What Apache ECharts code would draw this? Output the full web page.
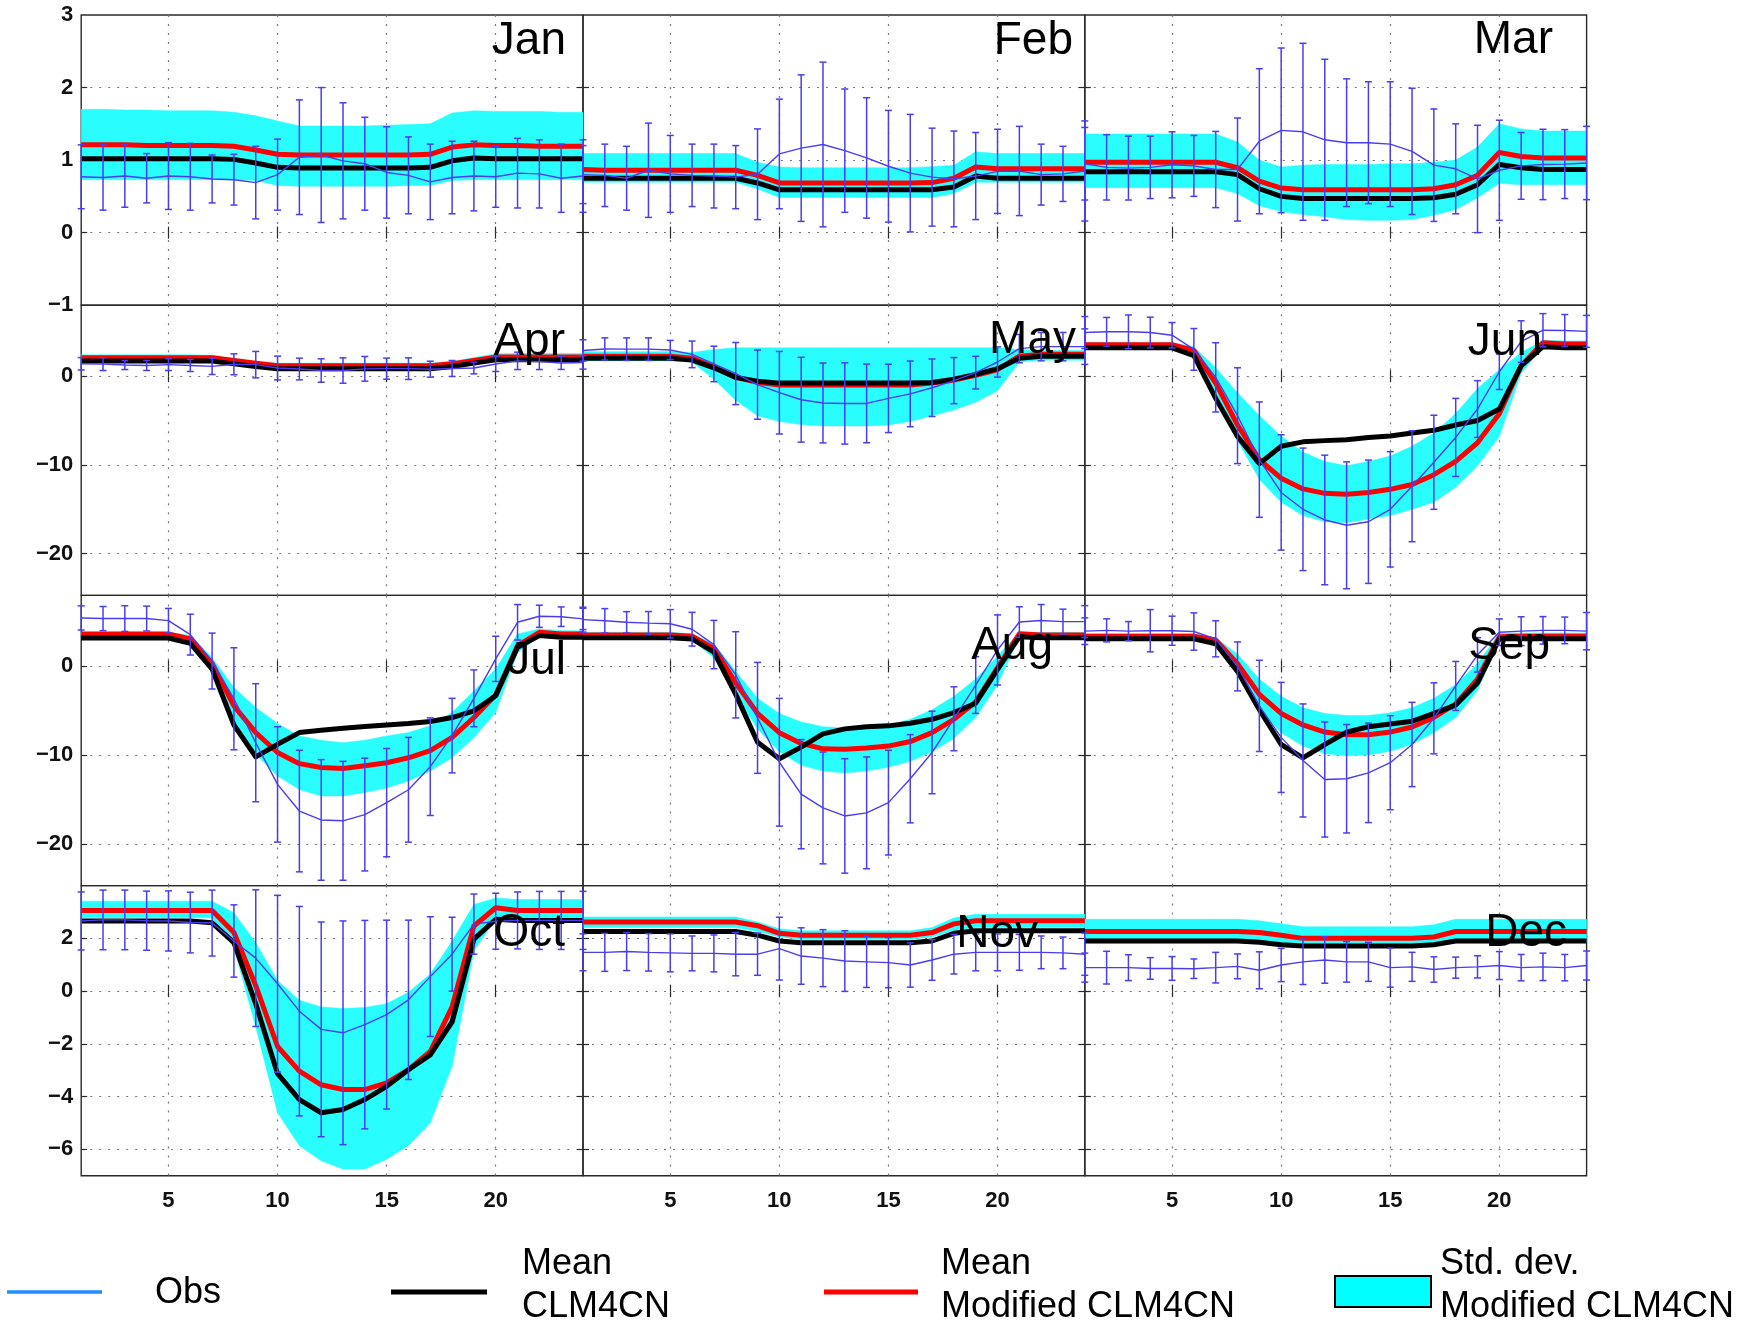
<!DOCTYPE html>
<html><head><meta charset="utf-8">
<script src="https://cdn.jsdelivr.net/npm/echarts@6/dist/echarts.min.js"></script>
<style>html,body{margin:0;padding:0;background:#fff}#c{width:1748px;height:1329px}</style>
</head><body><div id="c"></div>
<script>
// ---------------- DATA ----------------
const hours = [1,2,3,4,5,6,7,8,9,10,11,12,13,14,15,16,17,18,19,20,21,22,23,24];
const months = ['Jan','Feb','Mar','Apr','May','Jun','Jul','Aug','Sep','Oct','Nov','Dec'];
const xTickValues = [5,10,15,20];
const rowYMin = [-1, -24.7, -24.7, -7];
const rowYMax = [3, 8, 8, 4];
const rowYTicks = [[-1,0,1,2,3],[-20,-10,0],[-20,-10,0],[-6,-4,-2,0,2]];

// Mean CLM4CN (black)
const ctlMean = [
 [1.02,1.02,1.02,1.02,1.02,1.02,1.02,1.01,0.96,0.90,0.89,0.89,0.89,0.89,0.89,0.89,0.90,0.99,1.03,1.02,1.02,1.02,1.02,1.02],
 [0.75,0.75,0.75,0.75,0.75,0.75,0.75,0.75,0.685,0.59,0.59,0.59,0.59,0.59,0.59,0.59,0.59,0.63,0.78,0.75,0.75,0.75,0.75,0.75],
 [0.84,0.84,0.84,0.84,0.84,0.84,0.84,0.80,0.605,0.50,0.47,0.47,0.47,0.47,0.47,0.47,0.48,0.53,0.66,0.94,0.895,0.87,0.87,0.87],
 [1.70,1.70,1.70,1.70,1.70,1.70,1.70,1.39,1.09,0.83,0.83,0.83,0.83,0.83,0.83,0.83,0.83,1.09,1.47,1.85,1.85,1.85,1.85,1.85],
 [2.03,2.03,2.03,2.03,2.03,1.81,0.95,-0.13,-0.56,-0.78,-0.78,-0.78,-0.78,-0.78,-0.78,-0.78,-0.70,-0.35,0.20,0.85,2.03,2.25,2.25,2.25],
 [3.2,3.2,3.2,3.2,3.2,2.33,-2.5,-6.8,-9.85,-7.9,-7.4,-7.26,-7.17,-6.9,-6.74,-6.4,-6.1,-5.5,-5.0,-3.7,1.17,3.33,3.2,3.2],
 [3.2,3.2,3.2,3.2,3.2,2.6,-0.3,-6.6,-10.2,-8.78,-7.46,-7.2,-6.97,-6.78,-6.6,-6.44,-6.2,-5.76,-5.0,-3.3,2.15,3.47,3.28,3.28],
 [3.24,3.24,3.24,3.24,3.24,3.1,1.6,-3.15,-8.55,-10.4,-9.1,-7.6,-7.04,-6.8,-6.7,-6.4,-5.96,-5.2,-4.15,-0.35,3.33,3.24,3.24,3.24],
 [3.11,3.11,3.11,3.11,3.11,3.11,2.55,-0.56,-4.88,-8.8,-10.3,-8.8,-7.4,-6.8,-6.5,-6.18,-5.3,-4.36,-1.86,3.11,3.11,3.11,3.11,3.11],
 [2.66,2.66,2.66,2.66,2.66,2.66,2.59,1.84,-0.48,-3.13,-4.11,-4.61,-4.49,-4.11,-3.61,-2.98,-2.42,-1.17,1.97,2.72,2.68,2.68,2.68,2.68],
 [2.26,2.26,2.26,2.26,2.26,2.26,2.26,2.26,2.12,1.90,1.83,1.83,1.83,1.83,1.83,1.83,1.90,2.19,2.29,2.29,2.29,2.29,2.29,2.29],
 [1.90,1.90,1.90,1.90,1.90,1.90,1.90,1.90,1.85,1.76,1.71,1.71,1.71,1.71,1.71,1.71,1.76,1.90,1.90,1.90,1.90,1.90,1.90,1.90]
];
// Mean Modified CLM4CN (red)
const modMean = [
 [1.21,1.21,1.21,1.20,1.20,1.20,1.20,1.19,1.14,1.08,1.07,1.07,1.07,1.07,1.07,1.07,1.08,1.18,1.21,1.20,1.20,1.19,1.19,1.19],
 [0.87,0.86,0.86,0.86,0.86,0.86,0.86,0.86,0.79,0.685,0.685,0.685,0.685,0.685,0.685,0.685,0.69,0.75,0.905,0.88,0.88,0.88,0.88,0.88],
 [0.97,0.97,0.97,0.97,0.97,0.97,0.97,0.895,0.71,0.615,0.59,0.59,0.59,0.59,0.59,0.59,0.605,0.66,0.79,1.105,1.05,1.03,1.03,1.03],
 [2.07,2.07,2.07,2.07,2.07,2.07,2.07,1.77,1.47,1.17,1.17,1.17,1.17,1.17,1.17,1.17,1.17,1.39,1.77,2.15,2.15,2.15,2.15,2.15],
 [2.25,2.25,2.25,2.25,2.25,2.03,1.04,-0.13,-0.69,-1.00,-1.00,-1.00,-1.00,-1.00,-1.00,-1.00,-0.78,-0.43,0.09,0.73,2.25,2.46,2.46,2.46],
 [3.54,3.54,3.54,3.54,3.54,2.9,-0.78,-5.5,-9.4,-11.5,-12.7,-13.2,-13.3,-13.1,-12.75,-12.2,-11.1,-9.6,-7.5,-4.23,1.17,3.76,3.63,3.63],
 [3.65,3.65,3.65,3.65,3.65,3.1,0.34,-4.44,-7.46,-9.7,-10.96,-11.4,-11.5,-11.2,-10.85,-10.3,-9.5,-8.0,-5.76,-3.2,2.34,3.84,3.65,3.65],
 [3.54,3.54,3.54,3.54,3.54,3.41,2.03,-1.86,-5.3,-7.47,-8.68,-9.29,-9.33,-9.2,-8.98,-8.47,-7.47,-5.96,-4.0,-0.13,3.67,3.54,3.54,3.54],
 [3.41,3.41,3.41,3.41,3.41,3.41,2.98,0.3,-3.15,-5.3,-6.6,-7.4,-7.7,-7.7,-7.4,-6.83,-5.75,-4.23,-1.43,3.33,3.41,3.41,3.41,3.41],
 [3.06,3.06,3.06,3.06,3.06,3.06,3.06,2.22,0.21,-2.1,-3.03,-3.55,-3.73,-3.73,-3.48,-2.98,-2.29,-0.6,2.47,3.16,3.06,3.06,3.06,3.06],
 [2.62,2.62,2.62,2.62,2.62,2.62,2.62,2.62,2.48,2.19,2.12,2.12,2.12,2.12,2.12,2.12,2.22,2.55,2.67,2.67,2.67,2.67,2.67,2.67],
 [2.26,2.26,2.26,2.26,2.26,2.26,2.26,2.26,2.22,2.12,2.00,2.00,2.00,2.00,2.00,2.00,2.05,2.26,2.26,2.26,2.26,2.26,2.26,2.26]
];
// Std. dev. band of Modified CLM4CN: upper and lower edges
const modHi = [
 [1.70,1.70,1.69,1.69,1.68,1.68,1.68,1.66,1.61,1.54,1.47,1.47,1.47,1.47,1.48,1.49,1.50,1.65,1.68,1.67,1.67,1.67,1.66,1.66],
 [1.09,1.09,1.09,1.09,1.09,1.09,1.09,1.09,0.97,0.905,0.895,0.895,0.895,0.895,0.895,0.895,0.91,0.93,1.115,1.09,1.09,1.09,1.09,1.09],
 [1.36,1.36,1.36,1.36,1.36,1.36,1.36,1.25,1.00,0.905,0.93,0.94,0.94,0.94,0.95,0.95,0.97,1.00,1.18,1.50,1.43,1.40,1.40,1.40],
 [2.41,2.41,2.41,2.41,2.41,2.41,2.35,1.96,1.66,1.47,1.47,1.47,1.47,1.47,1.47,1.47,1.47,1.66,2.10,2.53,2.56,2.56,2.56,2.56],
 [2.76,2.76,2.76,2.76,2.76,2.68,3.00,3.20,3.20,3.20,3.20,3.20,3.20,3.20,3.20,3.20,3.20,3.20,3.20,3.20,3.00,2.90,2.90,2.90],
 [3.76,3.76,3.76,3.76,3.76,3.33,0.95,-1.86,-4.45,-6.74,-8.55,-9.6,-10.1,-9.6,-9.0,-7.9,-6.4,-4.2,-1.4,0.73,2.68,4.06,3.97,3.97],
 [3.84,3.84,3.84,3.84,3.84,3.47,1.0,-2.37,-4.63,-6.44,-7.83,-8.32,-8.59,-8.32,-7.83,-7.46,-6.7,-5.2,-2.75,-0.3,3.65,4.22,4.03,4.03],
 [3.84,3.84,3.84,3.84,3.84,3.67,2.55,-0.56,-3.58,-5.3,-6.26,-6.8,-6.95,-6.8,-6.6,-5.96,-4.88,-3.37,-1.43,1.17,3.84,3.84,3.84,3.84],
 [3.67,3.67,3.67,3.67,3.67,3.67,3.24,1.38,-1.43,-3.37,-4.67,-5.3,-5.53,-5.53,-5.23,-4.67,-3.58,-2.07,0.3,3.76,3.76,3.76,3.76,3.76],
 [3.41,3.41,3.41,3.41,3.41,3.41,3.41,2.97,1.84,0.4,-0.35,-0.6,-0.66,-0.62,-0.48,-0.04,0.65,1.9,3.28,3.53,3.47,3.47,3.47,3.47],
 [2.81,2.81,2.81,2.81,2.81,2.81,2.81,2.81,2.62,2.36,2.29,2.29,2.29,2.29,2.29,2.29,2.41,2.77,2.91,2.91,2.91,2.91,2.91,2.91],
 [2.72,2.72,2.72,2.72,2.72,2.72,2.72,2.72,2.67,2.55,2.44,2.44,2.44,2.44,2.44,2.44,2.52,2.72,2.72,2.72,2.72,2.72,2.72,2.72]
];
const modLo = [
 [0.73,0.73,0.73,0.73,0.73,0.73,0.73,0.73,0.72,0.65,0.64,0.64,0.64,0.64,0.64,0.65,0.65,0.72,0.73,0.73,0.73,0.73,0.73,0.73],
 [0.695,0.695,0.695,0.695,0.695,0.695,0.695,0.695,0.605,0.485,0.485,0.485,0.485,0.485,0.485,0.485,0.485,0.54,0.695,0.695,0.695,0.695,0.695,0.695],
 [0.62,0.62,0.62,0.62,0.62,0.62,0.62,0.54,0.37,0.29,0.25,0.22,0.18,0.17,0.17,0.18,0.24,0.32,0.48,0.68,0.66,0.66,0.66,0.66],
 [1.58,1.58,1.58,1.58,1.58,1.58,1.58,1.24,0.94,0.64,0.64,0.64,0.64,0.64,0.64,0.64,0.64,0.94,1.32,1.66,1.70,1.70,1.70,1.70],
 [1.73,1.73,1.73,1.73,1.73,1.60,-0.35,-2.72,-4.45,-5.10,-5.44,-5.60,-5.60,-5.60,-5.50,-5.10,-4.45,-3.80,-2.94,-1.64,1.60,1.81,1.81,1.81],
 [3.11,3.11,3.11,3.11,3.11,2.46,-2.5,-7.26,-11.6,-14.2,-15.7,-16.4,-16.5,-16.1,-15.7,-15.0,-14.2,-12.5,-10.1,-6.8,0.3,3.33,3.33,3.33],
 [3.35,3.35,3.35,3.35,3.35,2.71,-0.49,-6.14,-9.9,-12.35,-13.86,-14.6,-14.6,-14.2,-13.7,-12.9,-11.8,-10.3,-8.0,-5.2,1.58,3.35,3.28,3.28],
 [3.24,3.24,3.24,3.24,3.24,3.0,0.95,-3.37,-7.04,-9.63,-11.15,-11.8,-12.0,-11.8,-11.36,-10.7,-9.63,-8.1,-5.75,-2.07,3.33,3.24,3.24,3.24],
 [3.0,3.0,3.0,3.0,3.0,3.0,2.46,-1.0,-4.88,-7.47,-8.98,-9.85,-10.07,-9.98,-9.55,-8.77,-7.47,-5.75,-2.72,2.9,3.0,3.0,3.0,3.0],
 [2.78,2.78,2.78,2.78,2.78,2.78,2.78,1.65,-1.35,-4.61,-5.86,-6.43,-6.74,-6.74,-6.37,-5.86,-4.99,-2.86,1.53,2.72,2.72,2.72,2.72,2.72],
 [2.41,2.41,2.41,2.41,2.41,2.41,2.41,2.41,2.26,2.05,1.97,1.97,1.97,1.97,1.97,1.97,2.05,2.30,2.41,2.41,2.41,2.41,2.41,2.41],
 [1.83,1.83,1.83,1.83,1.83,1.83,1.83,1.83,1.80,1.71,1.66,1.66,1.66,1.66,1.66,1.66,1.71,1.83,1.83,1.83,1.83,1.83,1.83,1.83]
];
// Observations: mean and standard deviation (error bars)
const obsMean = [
 [0.77,0.76,0.78,0.75,0.78,0.77,0.74,0.73,0.69,0.80,1.04,1.07,0.99,0.95,0.83,0.79,0.70,0.76,0.78,0.77,0.82,0.81,0.75,0.78],
 [0.80,0.79,0.75,0.86,0.81,0.79,0.78,0.765,0.805,1.085,1.165,1.215,1.13,1.03,0.915,0.82,0.765,0.74,0.78,0.845,0.85,0.80,0.81,0.85],
 [0.95,0.90,0.89,0.90,0.935,0.92,0.87,0.87,1.26,1.41,1.39,1.28,1.24,1.24,1.22,1.12,0.93,0.88,0.74,0.86,0.92,0.94,0.945,0.96],
 [1.40,1.36,1.26,1.21,1.30,1.21,1.11,1.34,1.30,0.92,0.81,0.64,0.64,0.83,0.85,0.85,0.79,0.87,0.92,1.38,1.73,1.64,1.49,1.55],
 [2.90,3.07,3.05,3.05,2.95,2.46,1.38,0.30,-0.95,-1.86,-2.65,-3.02,-3.07,-3.07,-2.50,-1.99,-1.30,-0.50,0.40,1.60,3.11,3.33,3.33,3.33],
 [4.92,5.0,5.0,4.92,4.62,3.02,-0.13,-4.45,-9.4,-13.1,-15.0,-16.2,-16.8,-16.4,-15.0,-12.4,-9.7,-6.9,-3.7,0.5,3.9,5.18,5.15,5.05],
 [5.46,5.39,5.39,5.39,5.16,3.58,0.6,-3.65,-8.6,-13.3,-16.3,-17.3,-17.4,-16.7,-15.35,-13.9,-11.3,-7.8,-3.6,0.85,4.97,5.65,5.6,5.35],
 [5.27,5.14,4.97,4.88,4.8,4.19,2.46,-0.95,-5.8,-10.8,-14.4,-15.95,-16.85,-16.5,-15.35,-12.66,-9.7,-5.9,-2.1,1.85,5.0,5.17,5.05,5.05],
 [3.97,4.06,3.97,4.02,4.02,3.93,3.11,0.0,-4.45,-8.0,-10.6,-12.75,-12.66,-12.0,-10.85,-8.8,-5.85,-2.2,1.3,3.85,3.97,4.06,4.06,3.97],
 [2.66,2.7,2.7,2.67,2.66,2.6,2.58,1.9,1.25,0.28,-0.76,-1.45,-1.58,-1.27,-0.89,-0.33,0.55,1.4,2.54,2.65,2.68,2.68,2.68,2.68],
 [1.47,1.47,1.5,1.47,1.45,1.43,1.43,1.4,1.4,1.61,1.33,1.25,1.14,1.11,1.08,0.99,1.18,1.4,1.47,1.47,1.47,1.47,1.45,1.4],
 [0.89,0.89,0.89,0.86,0.86,0.85,0.89,0.94,0.79,0.99,1.11,1.18,1.11,1.11,0.89,0.92,0.82,0.89,0.92,0.97,0.89,0.92,0.89,0.97]
];
const obsStd = [
 [0.44,0.45,0.43,0.34,0.46,0.46,0.33,0.35,0.50,0.49,0.79,0.93,0.80,0.64,0.63,0.53,0.52,0.50,0.48,0.42,0.48,0.47,0.47,0.50],
 [0.40,0.43,0.44,0.65,0.53,0.43,0.44,0.435,0.625,0.755,1.01,1.135,0.85,0.83,0.77,0.81,0.675,0.66,0.60,0.58,0.615,0.42,0.38,0.69],
 [0.50,0.45,0.44,0.43,0.455,0.42,0.525,0.71,1.00,1.135,1.22,1.11,0.88,0.84,0.86,0.87,0.775,0.62,0.74,0.69,0.46,0.485,0.475,0.505],
 [0.70,0.72,0.51,0.565,0.66,0.68,0.92,1.18,1.49,1.34,1.22,1.32,1.43,1.39,1.19,1.22,0.90,0.90,0.66,0.85,0.98,0.89,0.73,0.75],
 [1.20,1.25,1.27,1.27,1.08,1.50,2.00,3.50,3.90,4.65,4.78,4.50,4.58,4.43,3.85,3.70,3.24,2.60,1.84,1.70,1.60,1.60,1.60,2.00],
 [1.8,1.62,1.9,1.73,1.43,2.35,3.9,5.4,6.5,6.5,6.9,7.3,7.15,6.95,6.5,6.25,5.3,4.4,3.2,2.0,2.34,1.87,1.8,1.8],
 [1.36,1.36,1.45,1.4,1.37,2.3,3.15,5.75,6.65,6.5,6.85,6.8,6.7,6.35,6.1,5.9,5.5,4.2,3.2,2.55,2.0,1.25,1.1,1.2],
 [1.4,1.37,1.2,1.3,1.6,1.9,2.72,4.86,6.25,7.2,6.15,6.3,6.45,6.3,5.9,4.97,4.65,3.6,3.2,3.95,1.72,1.8,1.4,1.8],
 [1.5,1.3,1.08,2.38,1.64,2.1,2.03,2.76,5.14,6.2,6.37,6.48,6.11,5.6,5.3,4.75,4.0,2.76,1.94,1.5,1.62,1.55,1.5,2.1],
 [1.1,1.13,1.13,1.12,1.14,1.15,1.25,1.37,2.59,3.35,3.97,4.07,4.24,3.95,3.58,3.02,2.27,1.4,1.14,1.06,1.08,1.1,1.1,1.1],
 [0.7,0.72,0.72,0.71,0.72,0.66,0.7,0.82,0.8,1.19,1.07,1.08,1.15,0.97,0.95,0.84,0.77,0.75,0.7,0.7,0.68,0.62,0.6,0.8],
 [0.55,0.62,0.49,0.41,0.45,0.37,0.58,0.47,0.7,0.63,0.86,0.88,0.77,0.74,0.74,0.55,0.48,0.4,0.42,0.53,0.5,0.52,0.5,0.55]
];
const legendLabels = ['Obs', ['Mean','CLM4CN'], ['Mean','Modified CLM4CN'], ['Std. dev.','Modified CLM4CN']];

// ---------------- LAYOUT / STYLE ----------------
const FONT = '"Liberation Sans", Arial, Helvetica, sans-serif';
const GL = 81.2, GW = 501.8, GT = 15, GH = 290.2;
const C_OBS = '#4a3df0', C_BAND = '#29fdfd', C_MOD = '#ff0000', C_CTL = '#000000';
const monthAnchor = [[566,41],[1073,41],[1553,40],[565,342],[1076,340],[1542,342],[566,661],[1053,646],[1550,646],[565,933],[1038,934],[1567,933]];
const fmt = v => String(v).replace('-', '\u2212');

const grids = [], xAxes = [], yAxes = [], series = [], graphics = [];
const pairs = arr => hours.map((h, k) => [h, arr[k]]);
const gridLine = {show: true, lineStyle: {color: '#777', width: 1.2, type: [2, 7]}};
const tickStyle = {color: '#2a2a2a', width: 1.2};

for (let i = 0; i < 12; i++) {
  const row = Math.floor(i / 3), col = i % 3;
  grids.push({left: GL + col * GW, top: GT + row * GH, width: GW, height: GH,
    show: true, borderColor: '#2a2a2a', borderWidth: 1.4, backgroundColor: 'transparent'});
  const interiorY = rowYTicks[row].filter(v => v > rowYMin[row] && v < rowYMax[row]);
  xAxes.push({type: 'value', gridIndex: i, min: 1, max: 24, position: 'bottom',
    axisLine: {show: false},
    axisTick: {show: true, inside: true, length: 6, customValues: xTickValues, lineStyle: tickStyle},
    axisLabel: {show: row === 3, customValues: xTickValues, margin: 14, fontFamily: FONT, fontSize: 22, fontWeight: 'bold', color: '#111'},
    splitLine: gridLine});
  xAxes.push({type: 'value', gridIndex: i, min: 1, max: 24, position: 'top',
    axisLine: {show: false},
    axisTick: {show: true, inside: true, length: 6, customValues: xTickValues, lineStyle: tickStyle},
    axisLabel: {show: false}, splitLine: {show: false}});
  yAxes.push({type: 'value', gridIndex: i, min: rowYMin[row], max: rowYMax[row], position: 'left',
    axisLine: {show: false},
    axisTick: {show: true, inside: true, length: 6, customValues: interiorY, lineStyle: tickStyle},
    axisLabel: {show: col === 0, customValues: rowYTicks[row], margin: 8, formatter: fmt,
      fontFamily: FONT, fontSize: 22, fontWeight: 'bold', color: '#111'},
    splitLine: gridLine});
  yAxes.push({type: 'value', gridIndex: i, min: rowYMin[row], max: rowYMax[row], position: 'right',
    axisLine: {show: false},
    axisTick: {show: true, inside: true, length: 6, customValues: interiorY, lineStyle: tickStyle},
    axisLabel: {show: false}, splitLine: {show: false}});

  const xi = 2 * i, yi = 2 * i;
  const base = {xAxisIndex: xi, yAxisIndex: yi, symbol: 'none', silent: true, animation: false};
  // std-dev band as one polygon through the axis scales
  const lo = modLo[i], hi = modHi[i];
  series.push({type: 'custom', xAxisIndex: xi, yAxisIndex: yi, silent: true, animation: false, z: 1,
    data: hours.map((h, k) => [h, lo[k], hi[k]]),
    encode: {x: 0, y: [1, 2]},
    renderItem: function (params, api) {
      if (params.dataIndex !== 0) return null;
      const top = hours.map((h, k) => api.coord([h, hi[k]]));
      const bot = hours.map((h, k) => api.coord([h, lo[k]])).reverse();
      return {type: 'polygon', shape: {points: top.concat(bot)},
        style: {fill: C_BAND, stroke: C_BAND, lineWidth: 0.5}};
    }});
  // model means
  series.push(Object.assign({}, base, {type: 'line', name: 'mod' + i, data: pairs(modMean[i]),
    lineStyle: {color: C_MOD, width: 5, join: 'round'}, z: 3}));
  series.push(Object.assign({}, base, {type: 'line', name: 'ctl' + i, data: pairs(ctlMean[i]),
    lineStyle: {color: C_CTL, width: 5, join: 'round'}, z: 4}));
  // observations
  series.push(Object.assign({}, base, {type: 'line', name: 'obs' + i, data: pairs(obsMean[i]),
    lineStyle: {color: C_OBS, width: 1.4}, z: 5}));
  series.push({type: 'custom', xAxisIndex: xi, yAxisIndex: yi, silent: true, animation: false, clip: false, z: 5,
    data: hours.map((h, k) => [h, obsMean[i][k] - obsStd[i][k], obsMean[i][k] + obsStd[i][k]]),
    encode: {x: 0, y: [1, 2]},
    renderItem: function (params, api) {
      const x = api.value(0);
      const pLo = api.coord([x, api.value(1)]), pHi = api.coord([x, api.value(2)]);
      const hw = 3.5, st = {stroke: C_OBS, lineWidth: 1.5};
      return {type: 'group', children: [
        {type: 'line', shape: {x1: pLo[0], y1: pLo[1], x2: pHi[0], y2: pHi[1]}, style: st},
        {type: 'line', shape: {x1: pHi[0] - hw, y1: pHi[1], x2: pHi[0] + hw, y2: pHi[1]}, style: st},
        {type: 'line', shape: {x1: pLo[0] - hw, y1: pLo[1], x2: pLo[0] + hw, y2: pLo[1]}, style: st}
      ]};
    }});
  graphics.push({type: 'text', x: monthAnchor[i][0], y: monthAnchor[i][1], z: 100,
    style: {text: months[i], font: '46px ' + FONT, fill: '#000', textAlign: 'right', textVerticalAlign: 'middle'}});
}

// ---------------- LEGEND (graphic) ----------------
const LF = '36px ' + FONT;
graphics.push({type: 'line', shape: {x1: 7, y1: 1292, x2: 102, y2: 1292}, style: {stroke: '#1e8fff', lineWidth: 3.5}});
graphics.push({type: 'text', x: 155, y: 1293, style: {text: legendLabels[0], font: LF, fill: '#000', textVerticalAlign: 'middle'}});
graphics.push({type: 'line', shape: {x1: 391, y1: 1292, x2: 487, y2: 1292}, style: {stroke: C_CTL, lineWidth: 5}});
graphics.push({type: 'text', x: 522, y: 1264, style: {text: legendLabels[1][0], font: LF, fill: '#000', textVerticalAlign: 'middle'}});
graphics.push({type: 'text', x: 522, y: 1307, style: {text: legendLabels[1][1], font: LF, fill: '#000', textVerticalAlign: 'middle'}});
graphics.push({type: 'line', shape: {x1: 824, y1: 1292, x2: 918, y2: 1292}, style: {stroke: C_MOD, lineWidth: 5}});
graphics.push({type: 'text', x: 941, y: 1264, style: {text: legendLabels[2][0], font: LF, fill: '#000', textVerticalAlign: 'middle'}});
graphics.push({type: 'text', x: 941, y: 1307, style: {text: legendLabels[2][1], font: LF, fill: '#000', textVerticalAlign: 'middle'}});
graphics.push({type: 'rect', shape: {x: 1335, y: 1276, width: 96, height: 31}, style: {fill: '#00ffff', stroke: '#000', lineWidth: 2}});
graphics.push({type: 'text', x: 1440, y: 1264, style: {text: legendLabels[3][0], font: LF, fill: '#000', textVerticalAlign: 'middle'}});
graphics.push({type: 'text', x: 1440, y: 1307, style: {text: legendLabels[3][1], font: LF, fill: '#000', textVerticalAlign: 'middle'}});

const chart = echarts.init(document.getElementById('c'), null, {renderer: 'canvas'});
chart.setOption({
  animation: false,
  backgroundColor: '#fff',
  grid: grids, xAxis: xAxes, yAxis: yAxes, series: series, graphic: graphics
});
</script></body></html>
